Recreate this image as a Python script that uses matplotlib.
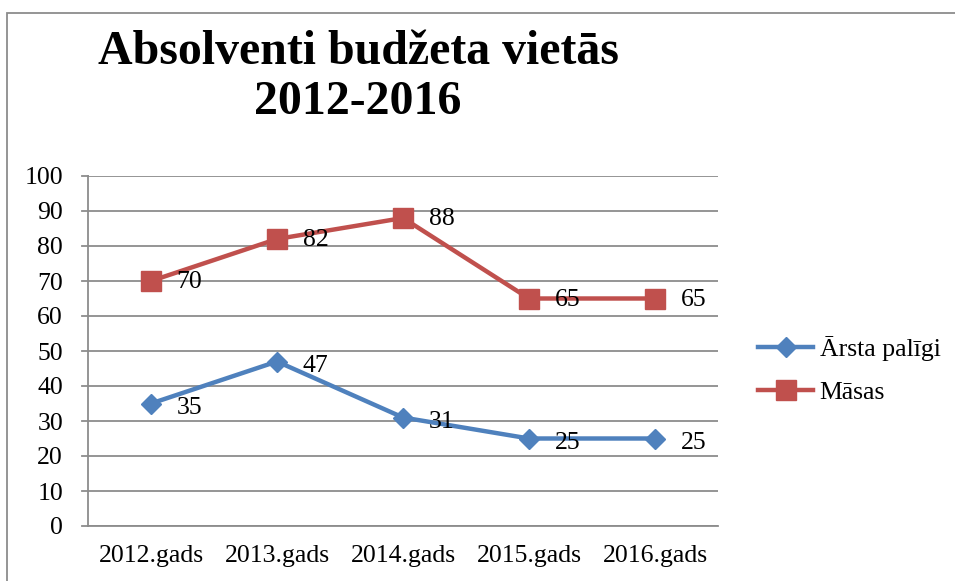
import matplotlib
matplotlib.use("Agg")
import matplotlib.pyplot as plt
from matplotlib.patches import Rectangle

categories = ["2012.gads", "2013.gads", "2014.gads", "2015.gads", "2016.gads"]
arsta_paligi = [35, 47, 31, 25, 25]
masas = [70, 82, 88, 65, 65]
series_names = ["Ārsta palīgi", "Māsas"]
title = "Absolventi budžeta vietās\n2012-2016"

plt.rcParams['font.family'] = ['Liberation Serif', 'DejaVu Serif']

fig = plt.figure(figsize=(9.55, 5.81), dpi=100)
# outer chart border
fig.patches.append(Rectangle((7/955, -0.05), 1.1, (581-13)/581 + 0.05, transform=fig.transFigure,
                             fill=False, edgecolor='#8c8c8c', linewidth=1.3, zorder=0))

ax = fig.add_axes([88/955, 55/581, 630/955, 350/581])
x = list(range(len(categories)))

blue = '#4F81BD'
red = '#C0504D'
ax.plot(x, arsta_paligi, color=blue, linewidth=3.2, marker='D', markersize=10.5,
        markeredgecolor=blue, label=series_names[0], zorder=3)
ax.plot(x, masas, color=red, linewidth=3.2, marker='s', markersize=14,
        markeredgecolor=red, label=series_names[1], zorder=3)

for xi, v in zip(x, arsta_paligi):
    ax.annotate(str(v), (xi, v), xytext=(18.5, -3), textcoords='offset points',
                ha='left', va='center', fontsize=18.5, zorder=4)
for xi, v in zip(x, masas):
    ax.annotate(str(v), (xi, v), xytext=(18.5, -1), textcoords='offset points',
                ha='left', va='center', fontsize=18.5, zorder=4)

ax.set_xlim(-0.5, len(categories) - 0.5)
ax.set_ylim(0, 100)
ax.set_yticks(range(0, 101, 10))
ax.set_xticks(x)
ax.set_xticklabels(categories)
ax.tick_params(axis='both', labelsize=18.5, length=0)
ax.tick_params(axis='y', pad=18)
ax.tick_params(axis='x', pad=14)
ax.grid(axis='y', color='#8c8c8c', linewidth=1.3)
ax.set_axisbelow(True)
for s in ['top', 'right']:
    ax.spines[s].set_visible(False)
for s in ['left', 'bottom']:
    ax.spines[s].set_color('#8c8c8c')
    ax.spines[s].set_linewidth(1.3)
# small tick marks on the left spine
for yv in range(0, 101, 10):
    ax.plot([-0.5 - 0.05, -0.5], [yv, yv], color='#8c8c8c', lw=1.3, clip_on=False)

leg = ax.legend(loc='center left', bbox_to_anchor=(1.047, 0.446), frameon=False,
                fontsize=18.5, handlelength=2.15, handletextpad=0.25, labelspacing=0.8,
                borderaxespad=0)

fig.text(358/955, 1 - 77/581, title, ha='center', va='center', fontsize=34.5,
         fontweight='bold', linespacing=1.2)

fig.savefig('out.png', dpi=100)
